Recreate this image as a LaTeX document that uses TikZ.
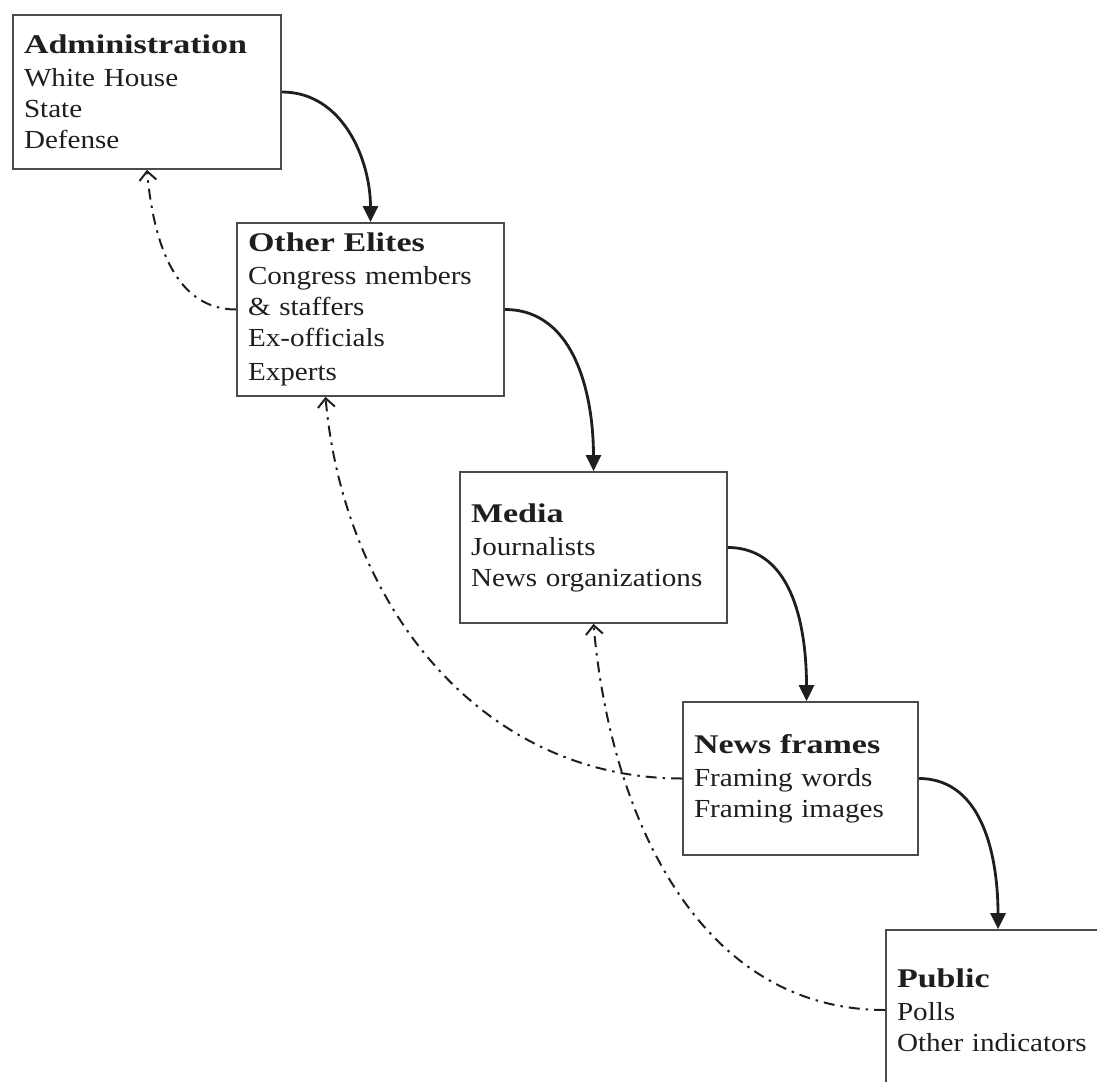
\documentclass[tikz,border=0pt]{standalone}
\usepackage{fontspec}
\setmainfont{Liberation Serif}[FakeStretch=1.12, BoldFeatures={FakeStretch=1.26}]
\usetikzlibrary{arrows.meta}
\definecolor{ink}{HTML}{1E1E1E}
\tikzset{
  box/.style={draw=ink!80, line width=1.7pt, rectangle, align=left, inner xsep=11pt, inner ysep=0pt,
    text=ink, font=\fontsize{26}{31}\selectfont},
  flow/.style={draw=ink, line width=2.8pt, -{Triangle[length=16pt,width=15pt]}},
  feedback/.style={draw=ink, line width=2pt, dash pattern=on 11pt off 6pt on 2.5pt off 6pt,
    -{Straight Barb[length=9pt,width=17pt,line width=2pt]}},
}
\newcommand{\ttl}[1]{{\fontsize{27}{31}\selectfont\bfseries #1}\\[2pt]}
\begin{document}
\begin{tikzpicture}[x=1pt,y=-1pt]
\useasboundingbox (0,0) rectangle (1097,1081);
\node[box, minimum width=268pt, minimum height=154pt, text width=246pt] (adm) at (147,92)
  {\ttl{Administration}White House\\State\\Defense};
\node[box, minimum width=267pt, minimum height=173pt, text width=245pt] (eli) at (370.5,309.5)
  {\ttl{Other Elites}Congress members\\\& staffers\\Ex-officials\\[3pt]Experts};
\node[box, minimum width=267pt, minimum height=151pt, text width=245pt] (med) at (593.5,547.5)
  {\ttl{Media}Journalists\\News organizations};
\node[box, minimum width=235pt, minimum height=153pt, text width=213pt] (frm) at (800.5,778.5)
  {\ttl{News frames}Framing words\\Framing images};
\node[box, minimum width=224pt, minimum height=160pt, text width=202pt] (pub) at (998,1010)
  {\ttl{Public}Polls\\Other indicators};
\draw[flow] (adm.east) to[out=0,in=90] (eli.north);
\draw[flow] (eli.east) to[out=0,in=90] (med.north);
\draw[flow] (med.east) to[out=0,in=90] ([xshift=6pt]frm.north);
\draw[flow] (frm.east) to[out=0,in=90] (pub.north);
\draw[feedback] (eli.west) to[out=180,in=-85] (adm.south);
\draw[feedback] (frm.west) to[out=180,in=-85] ([xshift=-45pt]eli.south);
\draw[feedback] (pub.west) to[out=180,in=-85] (med.south);
\end{tikzpicture}
\end{document}
